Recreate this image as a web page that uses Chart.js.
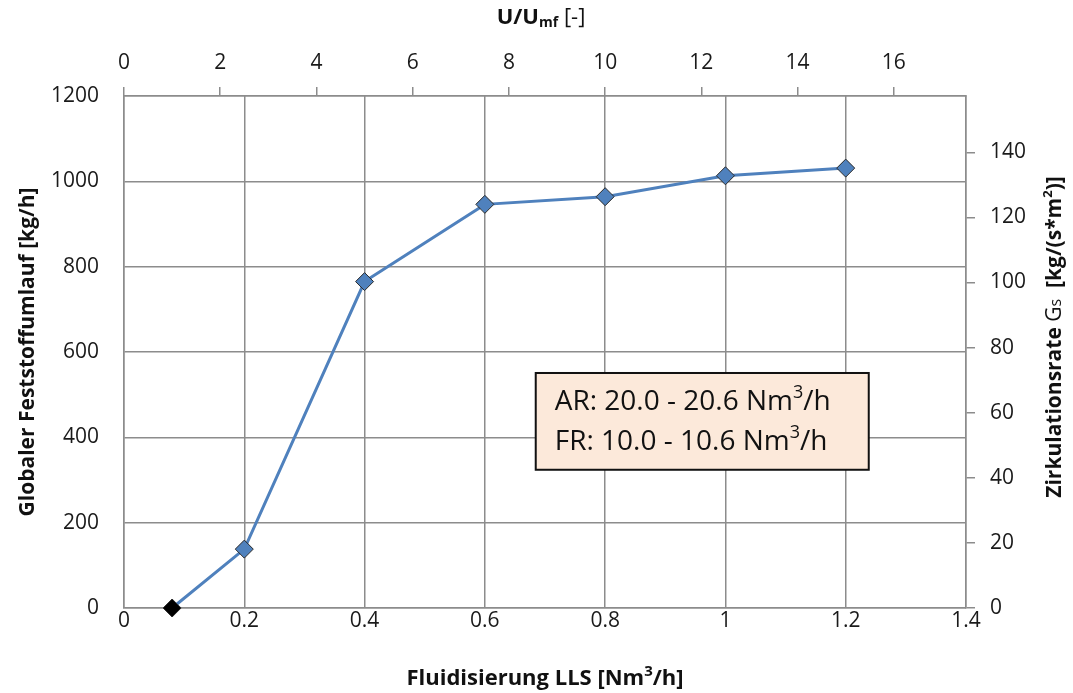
<!DOCTYPE html>
<html>
<head>
<meta charset="utf-8">
<script src="https://cdn.jsdelivr.net/npm/chart.js@4/dist/chart.umd.min.js"></script>
<style>
    html, body { margin: 0; padding: 0; background: #fff; }
    #wrap { width: 1073px; height: 693px; }
</style>
</head>
<body>
<div id="wrap"><canvas id="myChart" width="1073" height="693"></canvas></div>
<script>
'use strict';

// Fluidisierung LLS [Nm3/h] and global solids circulation [kg/h]
const lls = [0.08, 0.2, 0.4, 0.6, 0.8, 1.0, 1.2];
const umlauf = [0, 138, 765, 946, 964, 1013, 1031];

// axis ranges
const xMax = 1.4;
const yMax = 1200;
const uRatio = 12.5;          // U/Umf per Nm3/h
const gsRatio = 140 / 1068;   // kg/(s*m2) per kg/h

const infoLines = [
    ['AR: 20.0 - 20.6 Nm', '3', '/h'],
    ['FR: 10.0 - 10.6 Nm', '3', '/h'],
];

const FONT = '"Open Sans", Lato, sans-serif';
const gridColor = '#8c8c8c';
const blue = '#4F81BD';

// draws a list of text runs (sub/superscripts) centred on x, y
function drawRuns(ctx, runs, x, y, rotation) {
    ctx.save();
    ctx.translate(x, y);
    ctx.rotate(rotation || 0);
    ctx.textBaseline = 'middle';
    ctx.textAlign = 'left';
    let cx = -runsWidth(ctx, runs) / 2;
    runs.forEach(r => {
        ctx.font = r.font;
        ctx.fillStyle = r.color || '#111';
        ctx.fillText(r.t, cx, r.dy || 0);
        cx += ctx.measureText(r.t).width;
    });
    ctx.restore();
}

function runsWidth(ctx, runs) {
    let w = 0;
    runs.forEach(r => { ctx.font = r.font; w += ctx.measureText(r.t).width; });
    return w;
}

const bold = s => 'bold ' + s + 'px ' + FONT;
const normal = s => s + 'px ' + FONT;

const titlesPlugin = {
    id: 'titles',
    afterDraw(chart) {
        const ctx = chart.ctx;
        const a = chart.chartArea;
        const cx = (a.left + a.right) / 2;
        const cy = (a.top + a.bottom) / 2;

        drawRuns(ctx, [
            { t: 'U/U', font: bold(22) },
            { t: 'mf', font: bold(14), dy: 5 },
            { t: ' [-]', font: normal(22) },
        ], cx - 4, 18);

        drawRuns(ctx, [
            { t: 'Fluidisierung LLS [Nm', font: bold(22) },
            { t: '3', font: bold(15), dy: -7 },
            { t: '/h]', font: bold(22) },
        ], cx, 679);

        drawRuns(ctx, [
            { t: 'Globaler Feststoffumlauf [kg/h]', font: bold(21) },
        ], 28, cy, -Math.PI / 2);

        drawRuns(ctx, [
            { t: 'Zirkulationsrate ', font: bold(21) },
            { t: 'G', font: normal(21) },
            { t: 's', font: normal(16), dy: 1 },
            { t: '  [kg/(s*m', font: bold(21) },
            { t: '2', font: bold(13), dy: -7 },
            { t: ')]', font: bold(21) },
        ], 1055, cy - 15, -Math.PI / 2);

        // info box with the operating ranges
        const bx = a.left + 0.489 * (a.right - a.left);
        const by = a.top + 0.541 * (a.bottom - a.top);
        const bw = 0.3955 * (a.right - a.left);
        const bh = 0.189 * (a.bottom - a.top);
        ctx.save();
        ctx.fillStyle = '#FCE9DA';
        ctx.fillRect(bx, by, bw, bh);
        ctx.strokeStyle = '#111';
        ctx.lineWidth = 2;
        ctx.strokeRect(bx, by, bw, bh);
        ctx.restore();
        infoLines.forEach((ln, i) => {
            const runs = [
                { t: ln[0], font: normal(28) },
                { t: ln[1], font: normal(18), dy: -9 },
                { t: ln[2], font: normal(28) },
            ];
            // left-aligned: shift centre by half the width
            const w = runsWidth(ctx, runs);
            drawRuns(ctx, runs, bx + 19 + w / 2, by + 29 + i * 40);
        });
    }
};

const tickFont = { family: FONT, size: 21 };

const ctx = document.getElementById('myChart').getContext('2d');
const myChart = new Chart(ctx, {
    type: 'line',
    data: {
        datasets: [{
            data: lls.map((x, i) => ({ x: x, y: umlauf[i] })),
            borderColor: blue,
            borderWidth: 3,
            tension: 0,
            fill: false,
            clip: false,
            pointStyle: 'rectRot',
            pointRadius: 9,
            pointHoverRadius: 9,
            pointBackgroundColor: lls.map((x, i) => i === 0 ? '#000' : blue),
            pointBorderColor: '#2a2a2a',
            pointBorderWidth: 1,
        }]
    },
    options: {
        responsive: false,
        animation: false,
        devicePixelRatio: 1,
        layout: { padding: 0 },
        plugins: {
            legend: { display: false },
            tooltip: { enabled: false },
        },
        scales: {
            x: {
                type: 'linear',
                position: 'bottom',
                min: 0,
                max: xMax,
                afterFit: s => { s.height = 85; },
                grid: { color: gridColor, lineWidth: 1.5, drawTicks: false },
                border: { color: gridColor, width: 1.5 },
                ticks: {
                    stepSize: 0.2,
                    padding: 0,
                    autoSkip: false,
                    maxRotation: 0,
                    color: '#1a1a1a',
                    font: tickFont,
                    callback: v => String(Math.round(v * 10) / 10),
                },
            },
            x2: {
                type: 'linear',
                position: 'top',
                min: 0,
                max: xMax * uRatio,
                afterFit: s => { s.height = 96; },
                grid: { drawOnChartArea: false, color: gridColor, lineWidth: 1.5, tickLength: 9 },
                border: { color: gridColor, width: 1.5 },
                ticks: {
                    stepSize: 2,
                    includeBounds: false,
                    padding: 11,
                    autoSkip: false,
                    maxRotation: 0,
                    color: '#1a1a1a',
                    font: tickFont,
                },
            },
            y: {
                position: 'left',
                min: 0,
                max: yMax,
                afterFit: s => { s.width = 124; },
                grid: { color: gridColor, lineWidth: 1.5, drawTicks: false },
                border: { color: gridColor, width: 1.5 },
                ticks: {
                    stepSize: 200,
                    padding: 25,
                    autoSkip: false,
                    color: '#1a1a1a',
                    font: tickFont,
                    callback: v => String(v),
                },
            },
            y2: {
                position: 'right',
                min: 0,
                max: yMax * gsRatio,
                afterFit: s => { s.width = 107; },
                grid: { drawOnChartArea: false, color: gridColor, lineWidth: 1.5, tickLength: 9 },
                border: { color: gridColor, width: 1.5 },
                ticks: {
                    stepSize: 20,
                    includeBounds: false,
                    padding: 15,
                    autoSkip: false,
                    color: '#1a1a1a',
                    font: tickFont,
                },
            },
        }
    },
    plugins: [titlesPlugin]
});
</script>
</body>
</html>
